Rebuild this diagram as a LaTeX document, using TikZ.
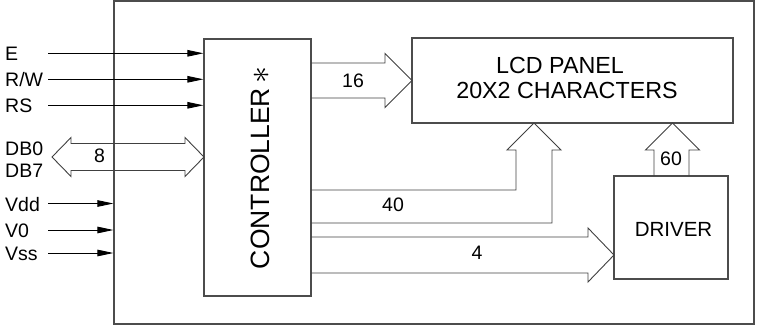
\documentclass[tikz,border=0pt]{standalone}
\usepackage{fontspec}
\usepackage{graphicx}
\setmainfont{Liberation Sans}
\usetikzlibrary{arrows.meta}
\tikzset{
  box/.style={draw=black!70, line width=1.1pt, inner sep=0pt, rectangle},
  bus/.style={draw=black!75, line width=0.9pt, line join=miter},
  sig/.style={draw=black, line width=0.9pt, -{Triangle[length=16pt,width=6.5pt]}},
  pin/.style={anchor=base west, inner sep=0pt, font=\fontsize{19.5}{22}\selectfont},
  num/.style={anchor=base, inner sep=0pt, font=\fontsize{19.5}{22}\selectfont},
}
\begin{document}
\begin{tikzpicture}[x=1pt, y=-1pt]
\useasboundingbox (0,0) rectangle (758,329);
% boxes
\node[box, minimum width=640pt, minimum height=323pt] (outer) at (434,162.5) {};
\node[box, fill=white, minimum width=107pt, minimum height=257pt] (ctrl) at (257.5,167.5) {};
\node[box, minimum width=321pt, minimum height=85pt] (lcd) at (572.5,80.5) {};
\node[box, minimum width=114pt, minimum height=103pt] (drv) at (671,227.5) {};
% texts in boxes
\node[anchor=base, inner sep=0pt, rotate=90, font=\fontsize{26.5}{30}\selectfont] (ctrltext) at (269,168)
  {CONTROLLER\hspace{4pt}{\fontsize{10}{12}\selectfont\raisebox{-0.5pt}{\scalebox{3.4}{$\ast$}}}};
\node[anchor=base, inner sep=0pt, font=\fontsize{23.3}{26}\selectfont] (lcdt1) at (560,73.3) {LCD PANEL};
\node[anchor=base, inner sep=0pt, font=\fontsize{23.3}{26}\selectfont] (lcdt2) at (567,98.3) {20X2 CHARACTERS};
\node[anchor=base, inner sep=0pt, font=\fontsize{20.5}{24}\selectfont] (drvtext) at (673.5,236.7) {DRIVER};
% pin labels
\node[pin] (lE) at (5,60.7) {E};
\node[pin] (lRW) at (5,86.8) {R/W};
\node[pin] (lRS) at (5,112.8) {RS};
\node[pin] (lDB0) at (5,155.3) {DB0};
\node[pin] (lDB7) at (5,177.3) {DB7};
\node[pin] (lVdd) at (5,211) {Vdd};
\node[pin] (lV0) at (5,237.5) {V0};
\node[pin] (lVss) at (5,260.5) {Vss};
% signal lines
\coordinate (sE) at (48,53.3);
\coordinate (sRW) at (48,79.3);
\coordinate (sRS) at (48,105.3);
\coordinate (sVdd) at (48,203.5);
\coordinate (sV0) at (48,230);
\coordinate (sVss) at (48,253);
\draw[sig] (sE) -- (sE -| ctrl.west);
\draw[sig] (sRW) -- (sRW -| ctrl.west);
\draw[sig] (sRS) -- (sRS -| ctrl.west);
\draw[sig] (sVdd) -- (sVdd -| outer.west);
\draw[sig] (sV0) -- (sV0 -| outer.west);
\draw[sig] (sVss) -- (sVss -| outer.west);
% data bus (double headed)
\draw[bus] (52,157) -- (71,137.5) -- (71,143.5) -- (185,143.5) -- (185,137.5) -- (204,157)
  -- (185,176.5) -- (185,170.5) -- (71,170.5) -- (71,176.5) -- cycle;
\node[num] (n8) at (99.5,162) {8};
% 16 bus to LCD
\draw[bus] (311,63) -- (385,63) -- (385,53.5) -- (412,80.5) -- (385,107.5) -- (385,98) -- (311,98);
\node[num] (n16) at (353,87.3) {16};
% 40 bus to LCD
\draw[bus] (311,190) -- (516,190) -- (516,150) -- (507,150) -- (534,123) -- (561,150)
  -- (552,150) -- (552,223) -- (311,223);
\node[num] (n40) at (393,211.7) {40};
% 4 bus to driver
\draw[bus] (311,237) -- (588,237) -- (588,228) -- (614,255) -- (588,282) -- (588,273) -- (311,273);
\node[num] (n4) at (477,259) {4};
% 60 bus driver to LCD
\draw[bus] (654,176) -- (654,150) -- (645.5,150) -- (672.5,123) -- (699.5,150) -- (689,150) -- (689,176);
\node[num] (n60) at (671,165) {60};
\end{tikzpicture}
\end{document}
